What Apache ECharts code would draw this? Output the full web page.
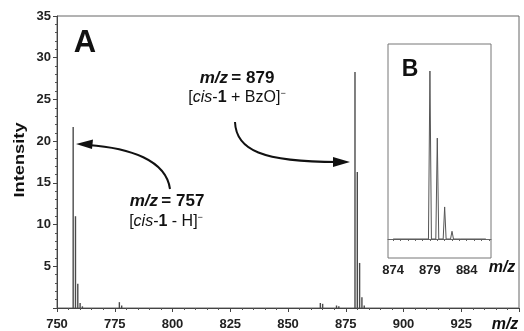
<!DOCTYPE html>
<html><head><meta charset="utf-8">
<script src="https://cdn.jsdelivr.net/npm/echarts@6/dist/echarts.min.js"></script>
<style>html,body{margin:0;padding:0;background:#fff}#c{width:524px;height:331px}</style>
</head><body><div id="c"></div>
<script>
// Main spectrum (A): m/z and intensity of sticks
const mzA  = [757, 758, 759, 760, 761, 777, 778, 864, 865, 871, 872, 879, 880, 881, 882, 883];
const intA = [21.7, 11.0, 2.9, 0.6, 0.2, 0.7, 0.3, 0.6, 0.5, 0.3, 0.2, 28.3, 16.3, 5.4, 1.3, 0.3];
// Inset (B): isotope profile trace
const mzB  = [874, 878.8, 879, 879.2, 879.8, 880, 880.2, 880.8, 881, 881.2, 881.8, 882, 882.2, 882.8, 883, 883.2, 886.6];
const intB = [0, 0, 28.3, 0, 0, 17.0, 0, 0, 5.4, 0, 0, 1.3, 0, 0, 0.3, 0, 0];
const xTicksA = [750, 775, 800, 825, 850, 875, 900, 925];
const yTicksA = [5, 10, 15, 20, 25, 30, 35];
const xLabelsB = [874, 879, 884];
const xTicksB = [874, 875, 876, 877, 878, 879, 880, 881, 882, 883, 884, 885, 886, 887];

const FONT = "'Liberation Sans', Arial, sans-serif";
const chart = echarts.init(document.getElementById('c'), null, {renderer: 'canvas'});

const sup = {font: "9px " + FONT, fill: '#111', verticalAlign: 'top', padding: [0, 0, 8, 0]};
const option = {
  animation: false,
  textStyle: {fontFamily: FONT},
  grid: [
    {left: 57, top: 16, width: 462, height: 293, show: true, borderColor: '#666', borderWidth: 1, backgroundColor: 'transparent'},
    {left: 388, top: 44, width: 103, height: 214, show: true, borderColor: '#777', borderWidth: 1, backgroundColor: '#fff', z: 5}
  ],
  xAxis: [
    {type: 'value', gridIndex: 0, min: 750, max: 950, interval: 25,
     axisLine: {lineStyle: {color: '#444', width: 1}},
     axisTick: {show: true, length: 4, lineStyle: {color: '#444'}},
     minorTick: {show: true, splitNumber: 5, length: 2, lineStyle: {color: '#555'}},
     splitLine: {show: false},
     axisLabel: {margin: 10, fontSize: 13, fontWeight: 'bold', color: '#222', fontFamily: FONT,
       formatter: v => xTicksA.indexOf(v) >= 0 ? String(v) : ''}},
    {type: 'value', gridIndex: 1, min: 873.3, max: 887.3, z: 6,
     axisLine: {lineStyle: {color: '#666', width: 1}},
     axisTick: {show: true, length: 2, customValues: xTicksB, lineStyle: {color: '#666'}},
     splitLine: {show: false},
     axisLabel: {margin: 6, fontSize: 13, fontWeight: 'bold', color: '#222', fontFamily: FONT, customValues: xLabelsB}}
  ],
  yAxis: [
    {type: 'value', gridIndex: 0, min: 0, max: 35, interval: 5,
     axisLine: {show: true, lineStyle: {color: '#444', width: 1}},
     axisTick: {show: true, length: 4, lineStyle: {color: '#444'}},
     minorTick: {show: true, splitNumber: 5, length: 2, lineStyle: {color: '#555'}},
     splitLine: {show: false},
     axisLabel: {margin: 6, fontSize: 13, fontWeight: 'bold', color: '#222', fontFamily: FONT,
       formatter: v => yTicksA.indexOf(v) >= 0 ? String(v) : ''}},
    {type: 'value', gridIndex: 1, min: -3.2, max: 32.85, show: false, z: 6}
  ],
  series: [
    {type: 'bar', xAxisIndex: 0, yAxisIndex: 0, barWidth: 1.4,
     itemStyle: {color: '#4a4a4a'},
     data: mzA.map((m, i) => [m, intA[i]])},
    {type: 'line', xAxisIndex: 1, yAxisIndex: 1, showSymbol: false, symbol: 'none', z: 7,
     lineStyle: {color: '#555', width: 1},
     data: mzB.map((m, i) => [m, intB[i]])}
  ],
  graphic: [
    {type: 'text', x: 20, y: 160, rotation: Math.PI / 2, scaleX: 1.22, z: 10,
     style: {text: 'Intensity', font: "bold 15px " + FONT, fill: '#111', align: 'center', verticalAlign: 'middle'}},
    {type: 'text', x: 85, y: 43, z: 10, style: {text: 'A', font: "bold 31px " + FONT, fill: '#111', align: 'center', verticalAlign: 'middle'}},
    {type: 'text', x: 410, y: 70, z: 10, style: {text: 'B', font: "bold 23px " + FONT, fill: '#111', align: 'center', verticalAlign: 'middle'}},
    {type: 'text', x: 505, y: 325, z: 10, style: {text: 'm/z', font: "italic bold 16px " + FONT, fill: '#111', align: 'center', verticalAlign: 'middle'}},
    {type: 'text', x: 502, y: 268, z: 10, style: {text: 'm/z', font: "italic bold 16px " + FONT, fill: '#111', align: 'center', verticalAlign: 'middle'}},
    // annotation 879
    {type: 'text', x: 237, y: 78, z: 10, style: {
      text: '{bi|m/z} {b|= 879}', align: 'center', verticalAlign: 'middle',
      rich: {bi: {font: "italic bold 17px " + FONT, fill: '#111'}, b: {font: "bold 17px " + FONT, fill: '#111'}}}},
    {type: 'text', x: 237, y: 98, z: 10, style: {
      text: '[{i|cis}-{b|1} + BzO]{s|−}', align: 'center', verticalAlign: 'middle',
      rich: {i: {font: "italic 16px " + FONT, fill: '#111'}, b: {font: "bold 16px " + FONT, fill: '#111'}, s: sup},
      font: "16px " + FONT, fill: '#111'}},
    // annotation 757
    {type: 'text', x: 167, y: 201, z: 10, style: {
      text: '{bi|m/z} {b|= 757}', align: 'center', verticalAlign: 'middle',
      rich: {bi: {font: "italic bold 17px " + FONT, fill: '#111'}, b: {font: "bold 17px " + FONT, fill: '#111'}}}},
    {type: 'text', x: 166, y: 222, z: 10, style: {
      text: '[{i|cis}-{b|1} - H]{s|−}', align: 'center', verticalAlign: 'middle',
      rich: {i: {font: "italic 16px " + FONT, fill: '#111'}, b: {font: "bold 16px " + FONT, fill: '#111'}, s: sup},
      font: "16px " + FONT, fill: '#111'}},
    // arrow to 757
    {type: 'bezierCurve', z: 10, shape: {x1: 170, y1: 189, cpx1: 166, cpy1: 160, cpx2: 130, cpy2: 148, x2: 88, y2: 145},
     style: {stroke: '#111', lineWidth: 2, fill: null}},
    {type: 'polygon', z: 10, shape: {points: [[76, 144], [93, 139.5], [92, 149]]}, style: {fill: '#111'}},
    // arrow to 879
    {type: 'bezierCurve', z: 10, shape: {x1: 235, y1: 122, cpx1: 236, cpy1: 150, cpx2: 262, cpy2: 162, x2: 338, y2: 162},
     style: {stroke: '#111', lineWidth: 2, fill: null}},
    {type: 'polygon', z: 10, shape: {points: [[350, 162], [333, 157], [333, 167]]}, style: {fill: '#111'}}
  ]
};
chart.setOption(option);
</script></body></html>
